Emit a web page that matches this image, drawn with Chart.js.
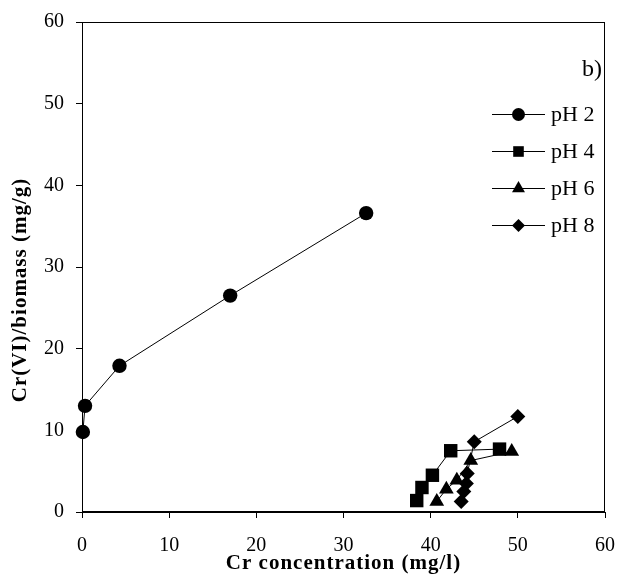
<!DOCTYPE html>
<html>
<head>
<meta charset="utf-8">
<script src="https://cdn.jsdelivr.net/npm/chart.js@4/dist/chart.umd.min.js"></script>
<style>
  html, body { margin: 0; padding: 0; background: #ffffff; }
  #wrap { width: 620px; height: 577px; }
</style>
</head>
<body>
<div id="wrap"><canvas id="c" width="620" height="577"></canvas></div>
<script>
// Cr(VI) uptake per unit biomass vs. residual Cr concentration at four pH values
const seriesNames = ['pH 2', 'pH 4', 'pH 6', 'pH 8'];
const pointStyles = ['circle', 'rect', 'triangle', 'rectRot'];
const pointSizes = [7.2, 9.5, 8.5, 7.5];

const ph2Conc = [0.1, 0.35, 4.3, 17.0, 32.6];
const ph2Uptake = [9.8, 13.0, 17.9, 26.5, 36.6];

const ph4Conc = [38.4, 39.0, 40.2, 42.3, 47.9];
const ph4Uptake = [1.4, 3.0, 4.5, 7.5, 7.7];

const ph6Conc = [40.7, 41.8, 43.0, 44.6, 49.3];
const ph6Uptake = [1.3, 2.8, 3.9, 6.3, 7.4];

const ph8Conc = [43.5, 43.8, 44.1, 44.2, 45.0, 50.0];
const ph8Uptake = [1.3, 2.5, 3.5, 4.7, 8.6, 11.7];

const xTicks = [0, 10, 20, 30, 40, 50, 60];
const yTicks = [0, 10, 20, 30, 40, 50, 60];

const xTitle = 'Cr concentration (mg/l)';
const yTitle = 'Cr(VI)/biomass (mg/g)';
const panelTag = 'b)';

const allConc = [ph2Conc, ph4Conc, ph6Conc, ph8Conc];
const allUptake = [ph2Uptake, ph4Uptake, ph6Uptake, ph8Uptake];

const SERIF = "'Liberation Serif', 'Times New Roman', serif";

const datasets = seriesNames.map((name, i) => ({
  label: name,
  data: allConc[i].map((x, j) => ({ x: x, y: allUptake[i][j] })),
  borderColor: '#000000',
  borderWidth: 1,
  backgroundColor: '#000000',
  pointBackgroundColor: '#000000',
  pointBorderColor: '#000000',
  pointBorderWidth: 0,
  pointStyle: pointStyles[i],
  pointRadius: pointSizes[i],
  pointHoverRadius: pointSizes[i],
  showLine: true,
  tension: 0,
  clip: false
}));

// Frame, panel tag, axis titles and a boxless legend drawn on the canvas
const decorations = {
  id: 'decorations',
  afterDraw(chart) {
    const ctx = chart.ctx;
    const a = chart.chartArea;
    ctx.save();
    ctx.strokeStyle = '#000000';
    ctx.lineWidth = 1;
    ctx.strokeRect(Math.round(a.left) + 0.5, Math.round(a.top) + 0.5,
                   Math.round(a.right - a.left) - 1, Math.round(a.bottom - a.top) - 1);

    ctx.fillStyle = '#000000';
    ctx.font = '24px ' + SERIF;
    ctx.textAlign = 'right';
    ctx.textBaseline = 'alphabetic';
    ctx.fillText(panelTag, a.right - 3, 76);

    ctx.font = 'bold 21px ' + SERIF;
    ctx.letterSpacing = '1px';
    ctx.textAlign = 'center';
    ctx.textBaseline = 'middle';
    ctx.fillText(xTitle, (a.left + a.right) / 2, 564);

    ctx.save();
    ctx.translate(21, 290);
    ctx.rotate(-Math.PI / 2);
    ctx.fillText(yTitle, 0, 0);
    ctx.restore();
    ctx.letterSpacing = '0px';

    const rowY = [114, 151, 188, 225];
    const legendSizes = [6.5, 7.5, 7.5, 6.5];
    chart.data.datasets.forEach((ds, i) => {
      const y = rowY[i];
      ctx.beginPath();
      ctx.moveTo(492, y + 0.5);
      ctx.lineTo(545, y + 0.5);
      ctx.lineWidth = 1;
      ctx.strokeStyle = '#000000';
      ctx.stroke();
      ctx.fillStyle = '#000000';
      Chart.helpers.drawPoint(ctx, {
        pointStyle: ds.pointStyle,
        radius: legendSizes[i],
        rotation: 0,
        borderWidth: 0
      }, 518.5, y + 0.5);
      ctx.fillStyle = '#000000';
      ctx.font = '22px ' + SERIF;
      ctx.textAlign = 'left';
      ctx.textBaseline = 'middle';
      ctx.fillText(ds.label, 551, y + 1);
    });
    ctx.restore();
  }
};

new Chart(document.getElementById('c'), {
  type: 'scatter',
  data: { datasets: datasets },
  options: {
    responsive: false,
    devicePixelRatio: 1,
    animation: false,
    events: [],
    layout: { padding: { top: 22, right: 15, left: 0, bottom: 0 } },
    plugins: {
      legend: { display: false },
      tooltip: { enabled: false },
      title: { display: false }
    },
    scales: {
      x: {
        type: 'linear',
        min: xTicks[0],
        max: xTicks[xTicks.length - 1],
        afterFit(scale) {
          scale.height = 65;
          scale.paddingLeft = 0;
          scale.paddingRight = 0;
        },
        afterBuildTicks(scale) { scale.ticks = xTicks.map(v => ({ value: v })); },
        grid: { drawOnChartArea: false, drawTicks: true, tickLength: 6, color: '#000000', lineWidth: 1 },
        border: { display: true, color: '#000000', width: 1 },
        ticks: { color: '#000000', font: { family: SERIF, size: 20 }, padding: 16, maxRotation: 0 },
        title: { display: false }
      },
      y: {
        type: 'linear',
        min: yTicks[0],
        max: yTicks[yTicks.length - 1],
        afterFit(scale) {
          scale.width = 82;
          scale.paddingTop = 0;
          scale.paddingBottom = 0;
        },
        afterBuildTicks(scale) { scale.ticks = yTicks.map(v => ({ value: v })); },
        grid: { drawOnChartArea: false, drawTicks: true, tickLength: 6, color: '#000000', lineWidth: 1 },
        border: { display: true, color: '#000000', width: 1 },
        ticks: { color: '#000000', font: { family: SERIF, size: 20 }, padding: 12 },
        title: { display: false }
      }
    }
  },
  plugins: [decorations]
});
</script>
</body>
</html>
